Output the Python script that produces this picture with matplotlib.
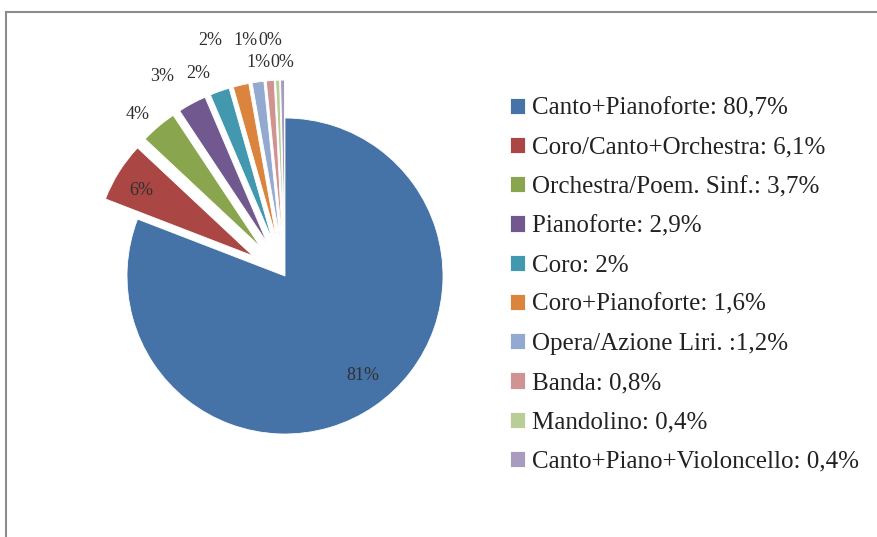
import matplotlib.pyplot as plt
from matplotlib.lines import Line2D

categories = ["Canto+Pianoforte: 80,7%", "Coro/Canto+Orchestra: 6,1%",
              "Orchestra/Poem. Sinf.: 3,7%", "Pianoforte: 2,9%", "Coro: 2%",
              "Coro+Pianoforte: 1,6%", "Opera/Azione Liri. :1,2%",
              "Banda: 0,8%", "Mandolino: 0,4%",
              "Canto+Piano+Violoncello: 0,4%"]
values = [80.7, 6.1, 3.7, 2.9, 2.0, 1.6, 1.2, 0.8, 0.4, 0.4]
colors = ["#4572A7", "#AA4643", "#89A54E", "#71588F", "#4198AF",
          "#DB843D", "#93A9CF", "#D19392", "#B9CD96", "#A99BBD"]
explode = [0] + [0.24] * 9

# label positions (in pie radius units), roughly as Excel placed them
label_pos = [(0.49, -0.63), (-0.91, 0.54), (-0.93, 1.02), (-0.78, 1.26),
             (-0.55, 1.28), (-0.47, 1.49), (-0.25, 1.49), (-0.17, 1.35),
             (-0.09, 1.49), (-0.02, 1.35)]

plt.rcParams['font.family'] = ['Liberation Serif', 'DejaVu Serif']

W, H = 877, 537
R = 158.0
cx, cy = 285.0, 261.0  # pie centre, pixels from bottom-left
fig = plt.figure(figsize=(W / 100, H / 100), dpi=100)
x0, x1, y0, y1 = -1.8, 1.8, -1.6, 1.7
ax = fig.add_axes([(cx + x0 * R) / W, (cy + y0 * R) / H,
                   (x1 - x0) * R / W, (y1 - y0) * R / H])

wedges, texts, autotexts = ax.pie(values, colors=colors, explode=explode,
                                  startangle=90, counterclock=False,
                                  autopct='%1.0f%%',
                                  wedgeprops=dict(edgecolor='white', linewidth=0.6),
                                  textprops=dict(fontsize=13, color='#303030'))
for t, p in zip(autotexts, label_pos):
    t.set_position(p)
    t.set_ha('center')
    t.set_va('center')

ax.set_aspect('auto')
ax.set_xlim(x0, x1)
ax.set_ylim(y0, y1)
ax.axis('off')

leg = fig.legend(wedges, categories, loc='upper left',
                 bbox_to_anchor=(497 / W, 1 - 85 / H), frameon=False,
                 fontsize=18, handlelength=0.62, handleheight=0.62,
                 handletextpad=0.28, labelspacing=0.69, borderpad=0)
for t in leg.get_texts():
    t.set_color('#222222')

# chart border (only top and left visible)
fig.add_artist(Line2D([6 / W, 1], [1 - 12 / H, 1 - 12 / H], transform=fig.transFigure,
                      color='#8c8c8c', linewidth=1.5))
fig.add_artist(Line2D([6 / W, 6 / W], [0, 1 - 12 / H], transform=fig.transFigure,
                      color='#8c8c8c', linewidth=1.5))

fig.savefig('out.png', dpi=100, facecolor='white')
